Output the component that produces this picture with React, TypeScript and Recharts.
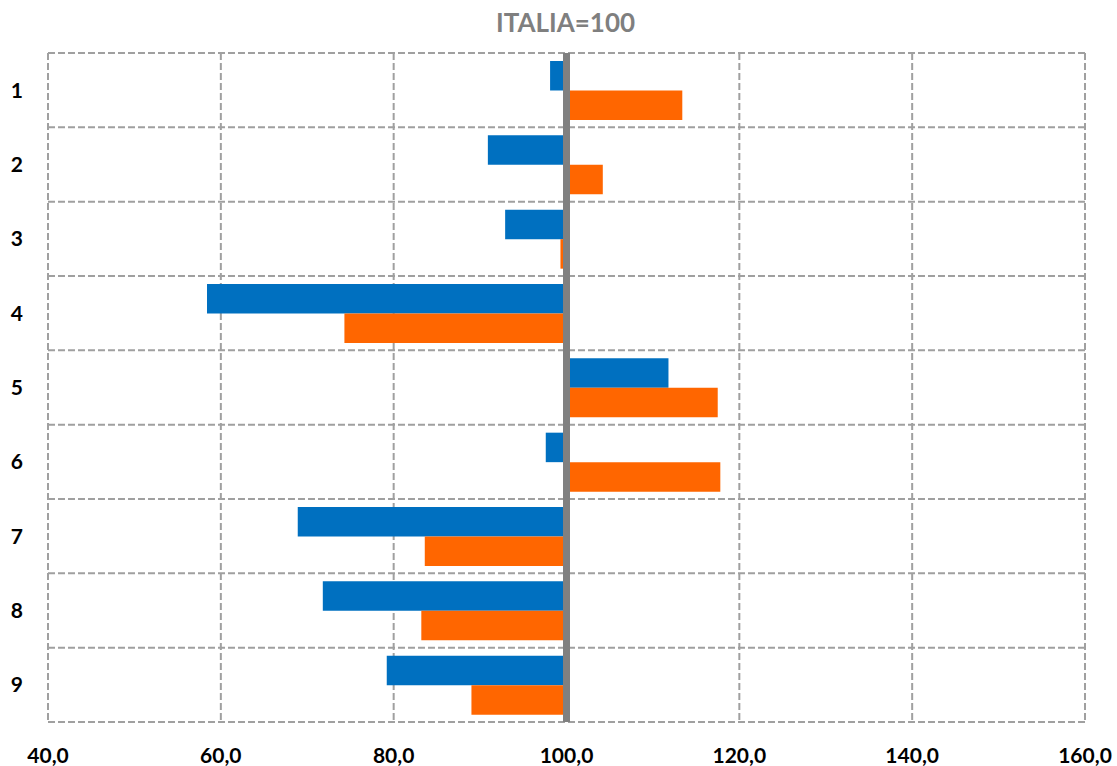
import { BarChart, Bar, XAxis, YAxis, CartesianGrid, ReferenceLine } from "recharts"

const categories = ["1", "2", "3", "4", "5", "6", "7", "8", "9"]
const blueValues = [98.1, 90.9, 92.9, 58.4, 111.8, 97.6, 68.9, 71.8, 79.2]
const orangeValues = [113.4, 104.2, 99.3, 74.3, 117.5, 117.8, 83.6, 83.2, 89.0]
const xTicks = [40, 60, 80, 100, 120, 140, 160]

const BASE = 100

const rows = categories.map((name, i) => ({
  name,
  blue: blueValues[i],
  orange: orangeValues[i],
}))

const fmt = (v: number) => v.toFixed(1).replace(".", ",")

const font = "Lato, 'Open Sans', sans-serif"

// horizontal grid lines sit on the edges of each category band, not the centres
const bandEdges = ({ offset }: any) => {
  const n = categories.length
  const edges: number[] = []
  for (let i = 0; i <= n; i++) edges.push(offset.top + (offset.height * i) / n)
  return edges
}

export default function App() {
  return (
    <div style={{ position: "absolute", left: 0, top: 0, width: 1117, height: 766, background: "#fff", fontFamily: font }}>
      <div
        style={{
          position: "absolute",
          top: 9,
          left: 0,
          width: 1131,
          textAlign: "center",
          fontSize: 26,
          lineHeight: "26px",
          fontWeight: 700,
          color: "#7f7f7f",
        }}
      >
        ITALIA=100
      </div>
      <BarChart
        width={1117}
        height={766}
        data={rows}
        layout="vertical"
        margin={{ top: 53, right: 32, bottom: 0, left: 0 }}
        barGap={0}
        barSize={29.5}
      >
        <CartesianGrid
          stroke="#a0a0a0"
          strokeWidth={2}
          strokeDasharray="7 3"
          horizontalCoordinatesGenerator={bandEdges}
        />
        <XAxis
          type="number"
          domain={[40, 160]}
          ticks={xTicks}
          allowDataOverflow
          tickFormatter={fmt}
          axisLine={false}
          tickLine={false}
          tickSize={0}
          tickMargin={26}
          height={44}
          tick={{ fill: "#000", fontSize: 21, fontWeight: 700, fontFamily: font }}
        />
        <YAxis
          type="category"
          dataKey="name"
          width={48}
          axisLine={false}
          tickLine={false}
          tickSize={0}
          tickMargin={25}
          tick={{ fill: "#000", fontSize: 21, fontWeight: 700, fontFamily: font }}
        />
        <Bar dataKey={(d: any) => [BASE, d.blue]} fill="#0070c0" isAnimationActive={false} />
        <Bar dataKey={(d: any) => [BASE, d.orange]} fill="#ff6600" isAnimationActive={false} />
        <ReferenceLine x={BASE} stroke="#808080" strokeWidth={7} />
      </BarChart>
    </div>
  )
}
